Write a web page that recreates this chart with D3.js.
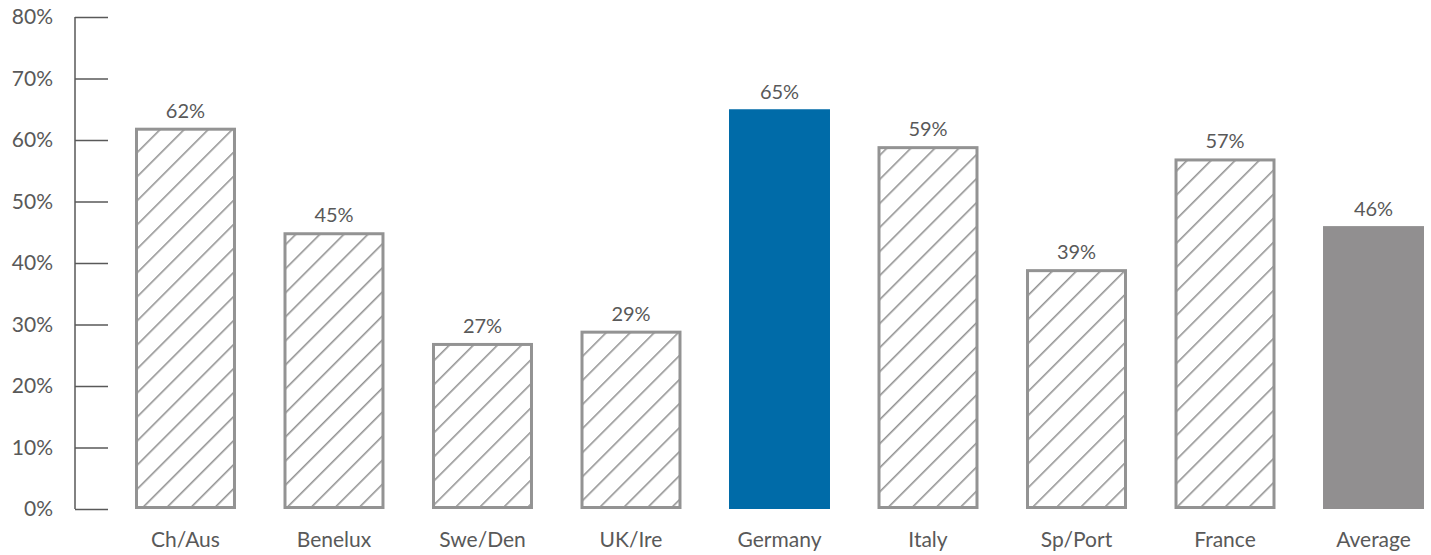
<!DOCTYPE html>
<html>
<head>
<meta charset="utf-8">
<script src="https://cdn.jsdelivr.net/npm/d3@7"></script>
<style>
  html, body { margin: 0; padding: 0; background: #fff; }
  svg { display: block; font-family: Lato, "Open Sans", sans-serif; font-weight: 400; }
</style>
</head>
<body>
<svg id="chart" width="1431" height="555"></svg>
<script>
// Share of respondents by market
const categories = ["Ch/Aus", "Benelux", "Swe/Den", "UK/Ire", "Germany", "Italy", "Sp/Port", "France", "Average"];
const values = [62, 45, 27, 29, 65, 59, 39, 57, 46];
// Fill style per bar: hatched outline, highlighted market, or overall average
const styles = ["hatch", "hatch", "hatch", "hatch", "blue", "hatch", "hatch", "hatch", "grey"];
const yTicks = [0, 10, 20, 30, 40, 50, 60, 70, 80];

const svg = d3.select("#chart");
const textColor = "#595959";
const hatchColor = "#939393";

const x = d3.scaleBand()
  .domain(categories)
  .range([135, 1424])
  .paddingInner(0.32)
  .paddingOuter(0);

const y = d3.scaleLinear()
  .domain([0, 80])
  .range([509, 17]);

// Diagonal hatch pattern (about 24px apart measured horizontally)
const gap = 17;
const defs = svg.append("defs");
const pat = defs.append("pattern")
  .attr("id", "hatch")
  .attr("patternUnits", "userSpaceOnUse")
  .attr("width", gap)
  .attr("height", gap)
  .attr("patternTransform", "rotate(45)");
pat.append("line")
  .attr("x1", 0).attr("y1", 0)
  .attr("x2", 0).attr("y2", gap)
  .attr("stroke", hatchColor)
  .attr("stroke-width", 3.2);

// Y axis: ticks extend right of the axis line
const axisX = 75;
const yAxis = d3.axisRight(y)
  .tickValues(yTicks)
  .tickSize(33)
  .tickFormat(d => d + "%");
const gy = svg.append("g")
  .attr("transform", `translate(${axisX},0)`)
  .call(yAxis);
gy.select(".domain").remove();
gy.selectAll(".tick line").attr("stroke", textColor).attr("stroke-width", 1.5);
gy.selectAll(".tick text")
  .attr("x", -22)
  .attr("text-anchor", "end")
  .attr("fill", textColor)
  .style("font-size", "21px")
  .style("font-family", "Lato, sans-serif");
gy.append("line")
  .attr("x1", 0).attr("x2", 0)
  .attr("y1", y(80)).attr("y2", y(0))
  .attr("stroke", textColor)
  .attr("stroke-width", 1.5);

const data = categories.map((c, i) => ({ cat: c, v: values[i], style: styles[i] }));

const bars = svg.append("g");
bars.selectAll("rect")
  .data(data)
  .join("rect")
  .attr("x", d => d.style === "hatch" ? x(d.cat) + 1.5 : x(d.cat))
  .attr("y", d => d.style === "hatch" ? y(d.v) + 1.5 : y(d.v))
  .attr("width", d => d.style === "hatch" ? x.bandwidth() - 3 : x.bandwidth())
  .attr("height", d => d.style === "hatch" ? y(0) - y(d.v) - 3 : y(0) - y(d.v))
  .attr("fill", d => d.style === "hatch" ? "url(#hatch)" : d.style === "blue" ? "#006BA8" : "#918F90")
  .attr("stroke", d => d.style === "hatch" ? hatchColor : "none")
  .attr("stroke-width", 3);

// Value labels
svg.append("g").selectAll("text")
  .data(data)
  .join("text")
  .attr("x", d => x(d.cat) + x.bandwidth() / 2)
  .attr("y", d => y(d.v) - 10)
  .attr("text-anchor", "middle")
  .attr("fill", textColor)
  .style("font-size", "20px")
  .text(d => d.v + "%");

// Category labels
svg.append("g").selectAll("text")
  .data(data)
  .join("text")
  .attr("x", d => x(d.cat) + x.bandwidth() / 2)
  .attr("y", 547)
  .attr("text-anchor", "middle")
  .attr("fill", textColor)
  .style("font-size", "21px")
  .text(d => d.cat);
</script>
</body>
</html>
